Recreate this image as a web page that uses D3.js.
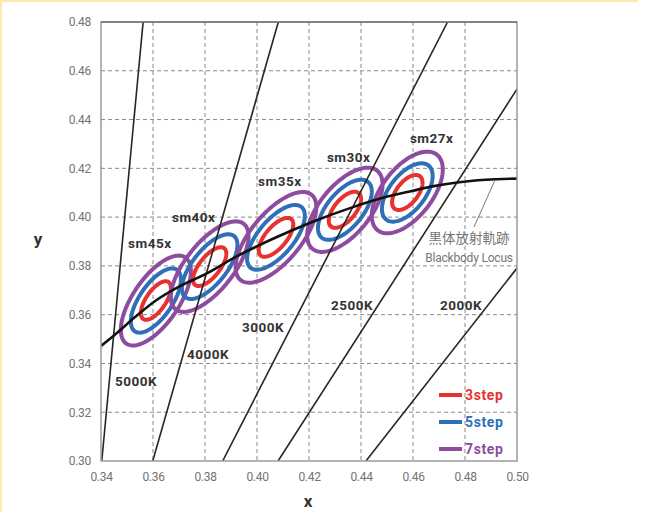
<!DOCTYPE html>
<html><head><meta charset="utf-8">
<script src="https://cdn.jsdelivr.net/npm/d3@7"></script>
<style>
html,body{margin:0;padding:0;background:#fff;}
svg{display:block;}
</style></head>
<body>
<svg id="chart" width="668" height="512"></svg>
<script>
// ---- data ----
const xTicks = [0.34,0.36,0.38,0.40,0.42,0.44,0.46,0.48,0.50];
const yTicks = [0.30,0.32,0.34,0.36,0.38,0.40,0.42,0.44,0.46,0.48];
// Planckian (blackbody) locus points (x, y)
const locusX = [0.3400,0.3451,0.3530,0.3611,0.3700,0.3805,0.3920,0.4053,0.4200,0.4369,0.4480,0.4599,0.4680,0.4770,0.4880,0.5000];
const locusY = [0.3472,0.3516,0.3589,0.3658,0.3715,0.3768,0.3838,0.3907,0.3975,0.4041,0.4078,0.4108,0.4127,0.4142,0.4153,0.4158];
// isotemperature lines: endpoints
const isoNames = ["5000K","4000K","3000K","2500K","2000K"];
const isoX1 = [0.3403,0.3599,0.3868,0.4081,0.4419];
const isoY1 = [0.30,0.30,0.30,0.30,0.30];
const isoX2 = [0.3562,0.4082,0.4733,0.5000,0.5000];
const isoY2 = [0.48,0.48,0.48,0.4525,0.3791];
const isoLabelX = [0.3454,0.3731,0.3942,0.4285,0.4704];
const isoLabelY = [0.3306,0.3420,0.3527,0.3621,0.3621];
// MacAdam ellipse centres and 1-step parameters
const ellNames = ["sm45x","sm40x","sm35x","sm30x","sm27x"];
const ellCx = [0.3611,0.3818,0.4073,0.4338,0.4578];
const ellCy = [0.3658,0.3797,0.3917,0.4030,0.4101];
const ellA = [0.00300,0.00313,0.00317,0.00290,0.00275];
const ellB = [0.00128,0.00134,0.00139,0.00140,0.00140];
const ellTheta = [58,54,52.6,53.1,55];
const ellLabelX = [0.3504,0.3673,0.4004,0.4269,0.4588];
const ellLabelY = [0.3873,0.3980,0.4129,0.4226,0.4304];
const steps = [3,5,7];
const stepNames = ["3step","5step","7step"];
const stepColors = ["#e8322f","#2f6fb8","#8e4c9e"];

// ---- chart ----
const svg = d3.select("#chart");
const W = 668, H = 512;
const L = 101, R = 517, T = 22, B = 461;
const x = d3.scaleLinear().domain([0.34,0.50]).range([L,R]);
const y = d3.scaleLinear().domain([0.30,0.48]).range([B,T]);

// yellow frame
svg.append("line").attr("x1",1).attr("x2",1).attr("y1",0).attr("y2",H)
  .attr("stroke","#fde9ac").attr("stroke-width",2);
svg.append("line").attr("x1",0).attr("x2",638).attr("y1",1).attr("y2",1)
  .attr("stroke","#fde9ac").attr("stroke-width",2);

const clipId = "plotclip";
svg.append("clipPath").attr("id",clipId).append("rect")
  .attr("x",L).attr("y",T).attr("width",R-L).attr("height",B-T);

// grid
const grid = svg.append("g");
grid.selectAll("line.v").data(xTicks.slice(1,-1)).enter().append("line")
  .attr("x1",d=>x(d)).attr("x2",d=>x(d)).attr("y1",T).attr("y2",B)
  .attr("stroke","#888").attr("stroke-width",1).attr("stroke-dasharray","4,3");
grid.selectAll("line.h").data(yTicks.slice(1,-1)).enter().append("line")
  .attr("y1",d=>y(d)).attr("y2",d=>y(d)).attr("x1",L).attr("x2",R)
  .attr("stroke","#888").attr("stroke-width",1).attr("stroke-dasharray","4,3");

// axes
const xAxis = d3.axisBottom(x).tickValues(xTicks).tickFormat(d3.format(".2f")).tickSize(0).tickPadding(11);
const yAxis = d3.axisLeft(y).tickValues(yTicks).tickFormat(d3.format(".2f")).tickSize(0).tickPadding(10);
const gx = svg.append("g").attr("transform",`translate(0,${B})`).call(xAxis);
const gy = svg.append("g").attr("transform",`translate(${L},0)`).call(yAxis);
[gx,gy].forEach(g=>{
  g.select(".domain").remove();
  g.selectAll("text").attr("fill","#737373").style("font-family","Roboto, sans-serif")
    .style("font-size","12px").style("letter-spacing","-0.3px");
});

const plot = svg.append("g").attr("clip-path",`url(#${clipId})`);

// ellipses
const ellipseLine = d3.line().x(p=>x(p[0])).y(p=>y(p[1])).curve(d3.curveLinearClosed);
function ellipsePts(i,k){
  const th = ellTheta[i]*Math.PI/180, a=ellA[i]*k, b=ellB[i]*k;
  return d3.range(0,360,3).map(deg=>{
    const t = deg*Math.PI/180;
    return [ellCx[i] + a*Math.cos(th)*Math.cos(t) - b*Math.sin(th)*Math.sin(t),
            ellCy[i] + a*Math.sin(th)*Math.cos(t) + b*Math.cos(th)*Math.sin(t)];
  });
}
ellNames.forEach((n,i)=>{
  steps.slice().reverse().forEach((k,j)=>{
    const si = steps.length-1-j;
    plot.append("path").attr("d",ellipseLine(ellipsePts(i,k)))
      .attr("fill","none").attr("stroke",stepColors[si]).attr("stroke-width",4);
  });
});

// isotherm lines
plot.selectAll("line.iso").data(isoNames).enter().append("line")
  .attr("x1",(d,i)=>x(isoX1[i])).attr("y1",(d,i)=>y(isoY1[i]))
  .attr("x2",(d,i)=>x(isoX2[i])).attr("y2",(d,i)=>y(isoY2[i]))
  .attr("stroke","#2b2424").attr("stroke-width",1.6);

// blackbody locus
const locus = locusX.map((v,i)=>[v,locusY[i]]);
plot.append("path").attr("d",d3.line().x(p=>x(p[0])).y(p=>y(p[1])).curve(d3.curveMonotoneX)(locus))
  .attr("fill","none").attr("stroke","#111").attr("stroke-width",2.6);

// plot border
svg.append("rect").attr("x",L).attr("y",T).attr("width",R-L).attr("height",B-T)
  .attr("fill","none").attr("stroke","#9a9a9a").attr("stroke-width",1.5);
svg.append("line").attr("x1",L).attr("x2",R).attr("y1",T).attr("y2",T)
  .attr("stroke","#555").attr("stroke-width",1);

// labels
const lblFont = "Roboto, sans-serif";
svg.selectAll("text.iso").data(isoNames).enter().append("text")
  .attr("x",(d,i)=>x(isoLabelX[i])).attr("y",(d,i)=>y(isoLabelY[i]))
  .attr("fill","#333").style("font-family",lblFont).style("font-weight","bold")
  .style("font-size","13.5px").style("letter-spacing","0.5px").text(d=>d);
svg.selectAll("text.ell").data(ellNames).enter().append("text")
  .attr("x",(d,i)=>x(ellLabelX[i])).attr("y",(d,i)=>y(ellLabelY[i]))
  .attr("fill","#333").style("font-family",lblFont).style("font-weight","bold")
  .style("font-size","13.5px").style("letter-spacing","0.5px").text(d=>d);

// blackbody annotation
svg.append("line").attr("x1",474).attr("y1",227).attr("x2",495).attr("y2",180)
  .attr("stroke","#777").attr("stroke-width",1);
svg.append("text").attr("x",469).attr("y",243).attr("text-anchor","middle")
  .attr("fill","#777").style("font-family","'Noto Sans CJK JP', sans-serif").style("font-size","13.5px")
  .text("黒体放射軌跡");
svg.append("text").attr("x",469).attr("y",262).attr("text-anchor","middle")
  .attr("fill","#777").style("font-family",lblFont).style("font-size","12px")
  .style("letter-spacing","-0.2px").text("Blackbody Locus");

// legend
const lg = svg.append("g");
stepNames.forEach((s,i)=>{
  const yy = 395 + i*27;
  lg.append("line").attr("x1",439).attr("x2",462).attr("y1",yy).attr("y2",yy)
    .attr("stroke",stepColors[i]).attr("stroke-width",4);
  lg.append("text").attr("x",465).attr("y",yy+5).attr("fill",stepColors[i])
    .style("font-family",lblFont).style("font-weight","bold").style("font-size","14px")
    .style("letter-spacing","0.6px").text(s);
});

// axis titles
svg.append("text").attr("x",308).attr("y",507).attr("text-anchor","middle")
  .attr("fill","#333").style("font-family",lblFont).style("font-weight","bold")
  .style("font-size","17px").text("x");
svg.append("text").attr("x",38).attr("y",245).attr("text-anchor","middle")
  .attr("fill","#333").style("font-family",lblFont).style("font-weight","bold")
  .style("font-size","17px").text("y");
</script>
</body></html>
